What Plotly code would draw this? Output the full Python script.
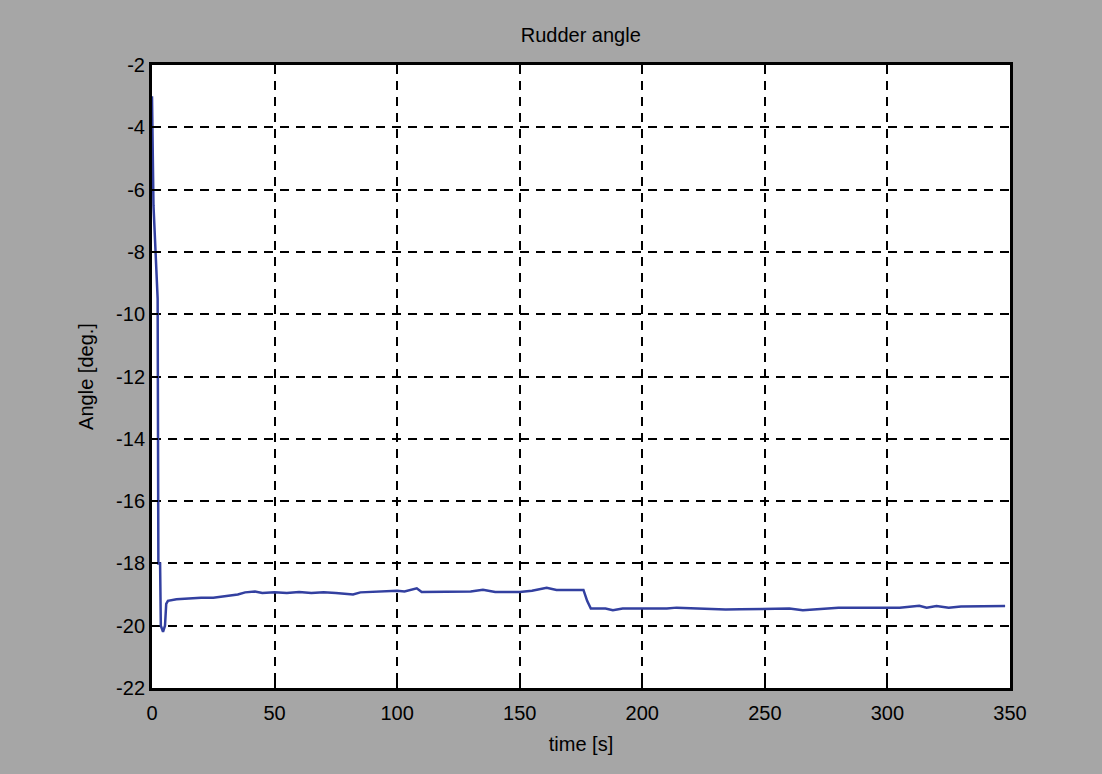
import plotly.graph_objects as go

# time [s] and rudder angle [deg.]
time_s = [0, 0.6, 2.3, 2.6, 3.3, 3.6, 4.5, 5.3, 5.8, 6.5,
          10, 20, 25, 30, 35, 38, 42, 45, 50, 55, 60, 65, 70, 75, 80, 82, 85, 90, 95,
          100, 103, 108, 110, 115, 120, 130, 135, 140, 150, 155, 161, 165, 170, 176,
          177.5, 179, 185, 188, 192, 200, 210, 214, 225, 234, 240, 250, 260, 265.5,
          275, 280, 290, 300, 305, 313, 316, 320, 325, 330, 340, 348]
angle_deg = [-3.0, -6.5, -9.5, -18.0, -18.0, -20.0, -20.2, -20.0, -19.3, -19.2,
             -19.15, -19.1, -19.1, -19.05, -19.0, -18.93, -18.9, -18.95, -18.93, -18.95,
             -18.92, -18.95, -18.93, -18.95, -18.97, -19.0, -18.93, -18.92, -18.9,
             -18.88, -18.9, -18.8, -18.92, -18.92, -18.9, -18.9, -18.85, -18.92, -18.92,
             -18.88, -18.78, -18.85, -18.85, -18.85,
             -19.2, -19.45, -19.45, -19.5, -19.45, -19.46, -19.45, -19.42, -19.45, -19.48,
             -19.47, -19.45, -19.45, -19.5, -19.45, -19.42, -19.42, -19.42, -19.42,
             -19.36, -19.42, -19.37, -19.42, -19.38, -19.37, -19.37]

x_ticks = [0, 50, 100, 150, 200, 250, 300, 350]
y_ticks = [-22, -20, -18, -16, -14, -12, -10, -8, -6, -4, -2]
y_tick_labels = [str(v) for v in y_ticks]

FONT = "Liberation Sans Narrow, Liberation Sans, Arial, sans-serif"

fig = go.Figure()
fig.add_trace(go.Scatter(x=time_s, y=angle_deg, mode="lines",
                         line=dict(color="#3340a0", width=2.5), showlegend=False))

axis_common = dict(showline=True, linecolor="black", linewidth=3, mirror=True,
                   ticks="inside", ticklen=6, tickcolor="black", tickwidth=2,
                   showgrid=True, gridcolor="black", gridwidth=2, griddash="9px,7px",
                   zeroline=False,
                   tickfont=dict(family=FONT, size=20, color="black"))

fig.update_xaxes(range=[0, 350], tickvals=x_ticks, ticklabelstandoff=5,
                 title=dict(text="time [s]", font=dict(family=FONT, size=20, color="black"),
                            standoff=14),
                 **axis_common)
fig.update_yaxes(range=[-22, -2], tickvals=y_ticks, ticktext=y_tick_labels,
                 title=dict(text="Angle [deg.]", font=dict(family=FONT, size=20, color="black"),
                            standoff=18),
                 **axis_common)

fig.update_layout(
    width=1102, height=774,
    margin=dict(l=152, r=92, t=65, b=86, autoexpand=False),
    paper_bgcolor="#a6a6a6", plot_bgcolor="white",
    title=dict(text="Rudder angle", x=0.527, xanchor="center", y=0.955, yanchor="middle",
               font=dict(family=FONT, size=20, color="black")),
)

fig.write_html("out.html", config={"displayModeBar": False},
               post_script="document.body.style.margin='0';document.body.style.overflow='hidden';")
